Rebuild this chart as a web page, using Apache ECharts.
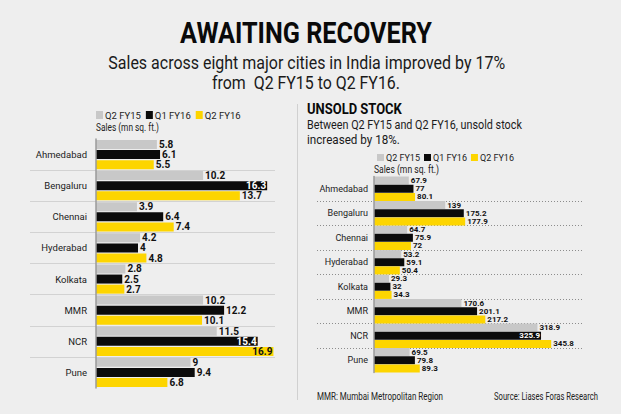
<!DOCTYPE html>
<html>
<head>
<meta charset="utf-8">
<script src="https://cdn.jsdelivr.net/npm/echarts@6/dist/echarts.min.js"></script>
<style>
html,body{margin:0;padding:0;background:#eeeeee;}
#chart{width:621px;height:414px;}
</style>
</head>
<body>
<div id="chart"></div>
<script>
// ---- data ----
const categories = ['Ahmedabad', 'Bengaluru', 'Chennai', 'Hyderabad', 'Kolkata', 'MMR', 'NCR', 'Pune'];
const seriesNames = ['Q2 FY15', 'Q1 FY16', 'Q2 FY16'];
const salesQ2FY15 = [5.8, 10.2, 3.9, 4.2, 2.8, 10.2, 11.5, 9];
const salesQ1FY16 = [6.1, 16.3, 6.4, 4, 2.5, 12.2, 15.4, 9.4];
const salesQ2FY16 = [5.5, 13.7, 7.4, 4.8, 2.7, 10.1, 16.9, 6.8];
const stockQ2FY15 = [67.9, 139, 64.7, 53.2, 29.3, 170.6, 318.9, 69.5];
const stockQ1FY16 = [77, 175.2, 75.9, 59.1, 32, 201.1, 325.9, 79.8];
const stockQ2FY16 = [80.1, 177.9, 72, 50.4, 34.3, 217.2, 345.8, 89.3];

// labels drawn inside the bar end (style choice)
const insideLabels = [['sales', 'Q1 FY16', 'Bengaluru'], ['sales', 'Q1 FY16', 'NCR'], ['sales', 'Q2 FY16', 'NCR'], ['stock', 'Q1 FY16', 'NCR']];

const FONT = "Roboto, 'Liberation Sans', 'DejaVu Sans', sans-serif";
const colors = ['#c8c8c8', '#0b0b0b', '#fdd500'];

function isInside(chart, name, cat) {
  return insideLabels.some(function (t) { return t[0] === chart && t[1] === name && t[2] === cat; });
}

function makeSeries(chart, idx, values, axisIdx, barWidth, barGap, fontSize) {
  const name = seriesNames[idx];
  return {
    name: name,
    type: 'bar',
    xAxisIndex: axisIdx,
    yAxisIndex: axisIdx,
    barWidth: barWidth,
    barGap: barGap,
    itemStyle: { color: colors[idx] },
    label: {
      show: true, position: 'right', distance: 2, lineHeight: fontSize,
      fontFamily: FONT, fontWeight: 'bold', fontSize: fontSize, color: '#111'
    },
    data: values.map(function (v, i) {
      const item = { value: v };
      if (isInside(chart, name, categories[i])) {
        item.label = { position: 'insideRight', distance: 1, color: idx === 1 ? '#ffffff' : '#111' };
      }
      return item;
    })
  };
}

// condensed-looking text: scale horizontally to the reference width
const measureCtx = document.createElement('canvas').getContext('2d');
function fitText(text, font, width, x, y, align, fill) {
  measureCtx.font = font;
  const w = measureCtx.measureText(text).width;
  return {
    type: 'text', x: x, y: y, scaleX: width / w,
    style: { text: text, x: 0, y: 0, font: font, fill: fill || '#1a1a1a', textAlign: align || 'left', textVerticalAlign: 'middle' }
  };
}

const chart = echarts.init(document.getElementById('chart'), null, { renderer: 'svg' });

const catAxisBase = {
  type: 'category', data: categories, inverse: true,
  axisTick: { show: false }, splitLine: { show: false }
};

const option = {
  backgroundColor: '#eeeeee',
  animation: false,
  grid: [
    { left: 96, top: 139, width: 178.5, height: 249 },
    { left: 374, top: 176.5, width: 205, height: 196 },
    { left: 30, top: 139, width: 245, height: 249 },
    { left: 317, top: 176.5, width: 266, height: 196 }
  ],
  xAxis: [
    { gridIndex: 0, type: 'value', min: 0, max: 17, show: false },
    { gridIndex: 1, type: 'value', min: 0, max: 400, show: false },
    { gridIndex: 2, type: 'value', min: 0, max: 1, show: false },
    { gridIndex: 3, type: 'value', min: 0, max: 1, show: false }
  ],
  yAxis: [
    Object.assign({}, catAxisBase, {
      gridIndex: 0, z: 5,
      axisLine: { lineStyle: { color: '#9a9a9a', width: 1.5 } },
      axisLabel: { fontFamily: FONT, fontSize: 9.5, color: '#222', margin: 9 }
    }),
    Object.assign({}, catAxisBase, {
      gridIndex: 1, z: 5,
      axisLine: { lineStyle: { color: '#9a9a9a', width: 1.5 } },
      axisLabel: { fontFamily: FONT, fontSize: 9, color: '#222', margin: 6 }
    }),
    Object.assign({}, catAxisBase, {
      gridIndex: 2,
      axisLine: { show: false }, axisLabel: { show: false },
      splitLine: { show: true, showMinLine: false, showMaxLine: false, lineStyle: { color: '#d2d2d2', width: 1 } }
    }),
    Object.assign({}, catAxisBase, {
      gridIndex: 3,
      axisLine: { show: false }, axisLabel: { show: false },
      splitLine: { show: true, showMinLine: false, showMaxLine: false, lineStyle: { color: '#8c8c8c', width: 1, type: [1, 2] } }
    })
  ],
  legend: [
    {
      left: 96, top: 110, padding: 0, itemWidth: 7, itemHeight: 8, itemGap: 5, icon: 'rect',
      data: seriesNames, selectedMode: false,
      textStyle: { fontFamily: FONT, fontSize: 9.5, color: '#222', padding: [0, 0, 0, -3] }
    },
    {
      left: 377, top: 153, padding: 0, itemWidth: 7, itemHeight: 7, itemGap: 4, icon: 'rect',
      data: seriesNames, selectedMode: false,
      textStyle: { fontFamily: FONT, fontSize: 9, color: '#222', padding: [0, 0, 0, -3] }
    }
  ],
  graphic: [
    { type: 'line', shape: { x1: 297.5, y1: 104, x2: 297.5, y2: 400 }, style: { stroke: '#d0d0d0', lineWidth: 1 } },
    fitText('AWAITING RECOVERY', 'bold 30px ' + FONT, 252, 306, 32.5, 'center', '#0a0a0a'),
    fitText('Sales across eight major cities in India improved by 17%', '17.5px ' + FONT, 397, 306.7, 63, 'center'),
    fitText('from  Q2 FY15 to Q2 FY16.', '17.5px ' + FONT, 188, 306, 83, 'center'),
    fitText('Sales (mn sq. ft.)', '11px ' + FONT, 63, 96, 127, 'left', '#222'),
    fitText('UNSOLD STOCK', 'bold 15.5px ' + FONT, 95, 307, 108.5, 'left', '#0a0a0a'),
    fitText('Between Q2 FY15 and Q2 FY16, unsold stock', '12px ' + FONT, 215, 307, 125, 'left'),
    fitText('increased by 18%.', '12px ' + FONT, 93, 307, 139.5, 'left'),
    fitText('Sales (mn sq. ft.)', '10.5px ' + FONT, 65, 374, 169, 'left', '#222'),
    fitText('MMR: Mumbai Metropolitan Region', '11px ' + FONT, 126, 317, 396, 'left', '#222'),
    fitText('Source: Liases Foras Research', '11px ' + FONT, 104, 598, 396, 'right', '#222')
  ],
  series: [
    makeSeries('sales', 0, salesQ2FY15, 0, 9, '12%', 10),
    makeSeries('sales', 1, salesQ1FY16, 0, 9, '12%', 10),
    makeSeries('sales', 2, salesQ2FY16, 0, 9, '12%', 10),
    makeSeries('stock', 0, stockQ2FY15, 1, 8, '2%', 8),
    makeSeries('stock', 1, stockQ1FY16, 1, 8, '2%', 8),
    makeSeries('stock', 2, stockQ2FY16, 1, 8, '2%', 8)
  ]
};
chart.setOption(option);
</script>
</body>
</html>
